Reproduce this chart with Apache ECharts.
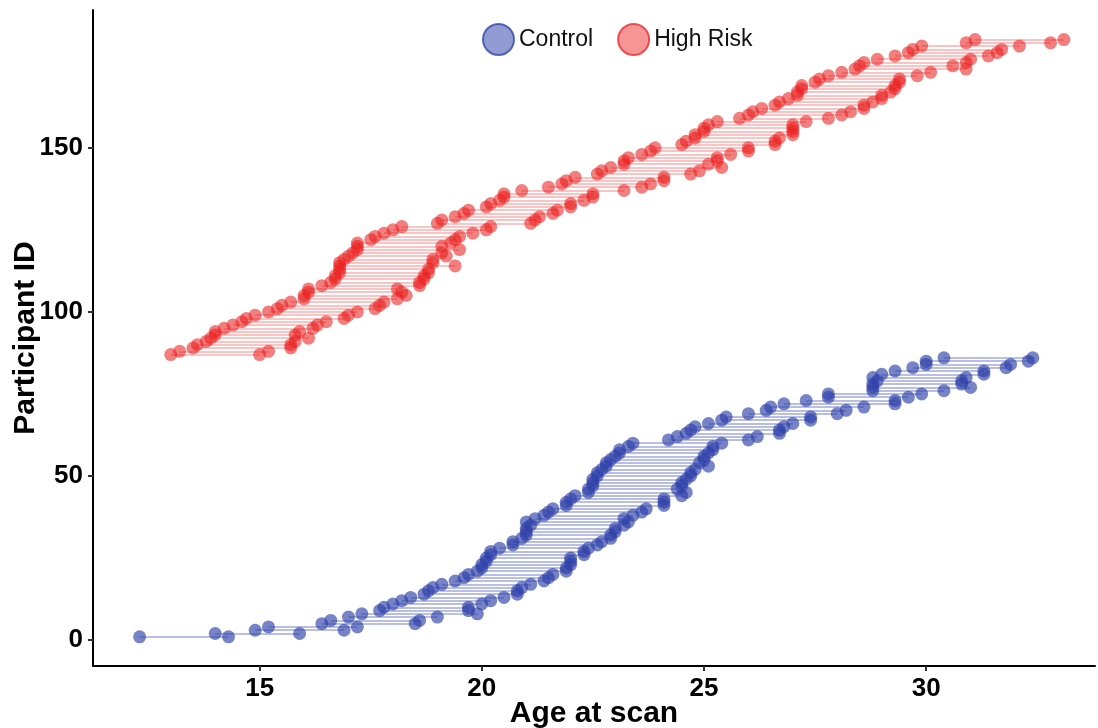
<!DOCTYPE html>
<html>
<head>
<meta charset="utf-8">
<script src="https://cdn.jsdelivr.net/npm/echarts@6/dist/echarts.min.js"></script>
<style>
  html, body { margin: 0; padding: 0; background: #fff; }
  #chart { width: 1098px; height: 728px; }
</style>
</head>
<body>
<div id="chart"></div>
<script>
const xTicks = [15, 20, 25, 30];
const yTicks = [0, 50, 100, 150];

// Control: participants 1..86, age at first and last scan
const controlStartId = 1;
const controlFirst = [
  12.3, 14.0, 14.9, 15.2, 16.4, 16.6, 17.0, 17.3, 17.7, 17.8,
  18.0, 18.2, 18.4, 18.7, 18.8, 18.9, 19.1, 19.4, 19.6, 19.7,
  19.9, 20.0, 20.0, 20.1, 20.1, 20.2, 20.2, 20.4, 20.7, 20.7,
  20.9, 21.0, 21.0, 21.0, 21.1, 21.0, 21.2, 21.4, 21.5, 21.6,
  21.9, 21.9, 22.0, 22.1, 22.4, 22.4, 22.5, 22.5, 22.5, 22.6,
  22.6, 22.7, 22.8, 22.8, 22.9, 23.0, 23.1, 23.1, 23.3, 23.4,
  24.2, 24.4, 24.6, 24.7, 24.8, 25.1, 25.4, 25.5, 26.0, 26.4,
  26.5, 26.8, 27.3, 27.8, 27.8, 28.8, 28.8, 28.8, 28.9, 28.8,
  29.0, 29.3, 29.7, 30.0, 30.0, 30.4
];
const controlSecond = [
  14.3, 15.9, 16.9, 17.2, 18.5, 18.6, 19.0, 19.9, 19.7, 19.7,
  20.0, 20.2, 20.5, 20.8, 20.8, 20.9, 21.1, 21.4, 21.5, 21.6,
  21.9, 21.9, 22.0, 22.0, 22.0, 22.3, 22.3, 22.4, 22.6, 22.7,
  22.9, 22.9, 23.0, 23.0, 23.2, 23.3, 23.2, 23.4, 23.6, 23.7,
  24.1, 24.1, 24.1, 24.5, 24.6, 24.4, 24.5, 24.5, 24.6, 24.7,
  24.7, 24.8, 25.1, 24.9, 25.0, 25.0, 25.1, 25.2, 25.2, 25.4,
  26.0, 26.2, 26.7, 26.7, 26.8, 27.0, 27.4, 27.4, 28.0, 28.2,
  28.6, 29.3, 29.3, 29.6, 29.9, 30.4, 31.0, 30.8, 30.8, 30.9,
  31.3, 31.3, 31.8, 31.9, 32.3, 32.4
];

// High Risk: participants 87..183
const riskStartId = 87;
const riskFirst = [
  13.0, 13.2, 13.5, 13.6, 13.8, 13.9, 14.0, 14.0, 14.2, 14.4,
  14.6, 14.7, 14.9, 15.2, 15.4, 15.5, 15.7, 16.0, 16.0, 16.1,
  16.1, 16.4, 16.6, 16.7, 16.7, 16.8, 16.8, 16.8, 16.8, 16.9,
  17.0, 17.1, 17.2, 17.2, 17.2, 17.5, 17.6, 17.8, 18.0, 18.2,
  19.0, 19.1, 19.4, 19.6, 19.7, 20.1, 20.2, 20.4, 20.5, 20.5,
  20.9, 21.5, 21.8, 21.9, 22.1, 22.6, 22.7, 22.9, 23.2, 23.2,
  23.3, 23.6, 23.8, 23.9, 24.5, 24.6, 24.8, 24.8, 25.0, 25.0,
  25.1, 25.3, 25.8, 26.0, 26.1, 26.3, 26.6, 26.7, 26.9, 27.1,
  27.1, 27.2, 27.2, 27.5, 27.6, 27.8, 28.1, 28.4, 28.5, 28.6,
  28.9, 29.3, 29.6, 29.7, 29.9, 30.9, 31.1
];
const riskSecond = [
  15.0, 15.2, 15.7, 15.7, 15.8, 16.1, 15.8, 15.9, 16.2, 16.3,
  16.5, 16.9, 17.0, 17.2, 17.6, 17.7, 17.8, 18.1, 18.3, 18.2,
  18.1, 18.6, 18.6, 18.7, 18.7, 18.8, 18.8, 19.4, 18.9, 18.9,
  19.2, 19.1, 19.5, 19.1, 19.3, 19.4, 19.5, 19.8, 20.1, 20.2,
  21.1, 21.2, 21.3, 21.6, 21.7, 22.0, 22.0, 22.3, 22.5, 22.5,
  23.2, 23.6, 23.8, 24.1, 24.1, 24.7, 24.9, 25.4, 25.1, 25.3,
  25.3, 25.6, 26.0, 26.0, 26.6, 26.6, 26.7, 27.0, 27.0, 27.0,
  27.0, 27.3, 27.8, 28.1, 28.3, 28.6, 28.6, 28.8, 29.0, 29.0,
  29.2, 29.3, 29.3, 29.4, 29.4, 29.8, 30.1, 30.9, 30.6, 30.9,
  31.0, 31.4, 31.6, 31.7, 32.1, 32.8, 33.1
];

const blue = 'rgba(48, 66, 170, 0.82)';
const blueLine = 'rgba(70, 86, 184, 0.5)';
const red = 'rgba(234, 32, 32, 0.72)';
const redLine = 'rgba(240, 70, 70, 0.42)';

function points(first, second, startId) {
  const out = [];
  first.forEach((a, i) => {
    out.push([a, startId + i]);
    out.push([second[i], startId + i]);
  });
  return out;
}

function segments(first, second, startId) {
  return first.map((a, i) => ({ coords: [[a, startId + i], [second[i], startId + i]] }));
}

const chart = echarts.init(document.getElementById('chart'));

const font = 'Liberation Sans, Arial, sans-serif';

chart.setOption({
  animation: false,
  grid: { left: 93, right: 3, top: 10, bottom: 62, containLabel: false, outerBoundsMode: 'none' },
  legend: {
    top: 18,
    left: 477,
    icon: 'circle',
    itemWidth: 31,
    itemHeight: 31,
    itemGap: 24,
    textStyle: { fontSize: 23, color: '#111', fontFamily: font },
    data: [
      { name: 'Control', itemStyle: { color: 'rgba(63, 81, 181, 0.72)', borderColor: '#3548a8', borderWidth: 2 } },
      { name: 'High Risk', itemStyle: { color: 'rgba(238, 60, 60, 0.68)', borderColor: '#e8302c', borderWidth: 2 } }
    ]
  },
  xAxis: {
    type: 'value',
    min: 11.25,
    max: 33.8,
    name: 'Age at scan',
    nameLocation: 'middle',
    nameGap: 33,
    nameMoveOverlap: false,
    nameTextStyle: { fontSize: 30, fontWeight: 'bold', color: '#000', fontFamily: font },
    splitLine: { show: false },
    axisLine: { onZero: false, lineStyle: { color: '#000', width: 2 } },
    axisTick: { customValues: xTicks, length: 5, lineStyle: { color: '#333', width: 2 } },
    axisLabel: { customValues: xTicks, fontSize: 26, fontWeight: 'bold', color: '#000', margin: 10, fontFamily: font }
  },
  yAxis: {
    type: 'value',
    min: -7.9,
    max: 192,
    name: 'Participant ID',
    nameLocation: 'middle',
    nameGap: 52,
    nameMoveOverlap: false,
    nameTextStyle: { fontSize: 30, fontWeight: 'bold', color: '#000', fontFamily: font },
    splitLine: { show: false },
    axisLine: { show: true, onZero: false, lineStyle: { color: '#000', width: 2 } },
    axisTick: { show: true, customValues: yTicks, length: 5, lineStyle: { color: '#333', width: 2 } },
    axisLabel: { customValues: yTicks, fontSize: 26, fontWeight: 'bold', color: '#000', margin: 10, fontFamily: font }
  },
  series: [
    {
      name: 'Control span',
      type: 'lines',
      coordinateSystem: 'cartesian2d',
      silent: true,
      z: 1,
      lineStyle: { color: blueLine, width: 1.5, opacity: 1 },
      data: segments(controlFirst, controlSecond, controlStartId)
    },
    {
      name: 'High Risk span',
      type: 'lines',
      coordinateSystem: 'cartesian2d',
      silent: true,
      z: 1,
      lineStyle: { color: redLine, width: 1.5, opacity: 1 },
      data: segments(riskFirst, riskSecond, riskStartId)
    },
    {
      name: 'Control',
      type: 'scatter',
      z: 3,
      symbolSize: 13,
      itemStyle: { color: blue },
      data: points(controlFirst, controlSecond, controlStartId)
    },
    {
      name: 'High Risk',
      type: 'scatter',
      z: 3,
      symbolSize: 13,
      itemStyle: { color: red },
      data: points(riskFirst, riskSecond, riskStartId)
    }
  ]
});
</script>
</body>
</html>
